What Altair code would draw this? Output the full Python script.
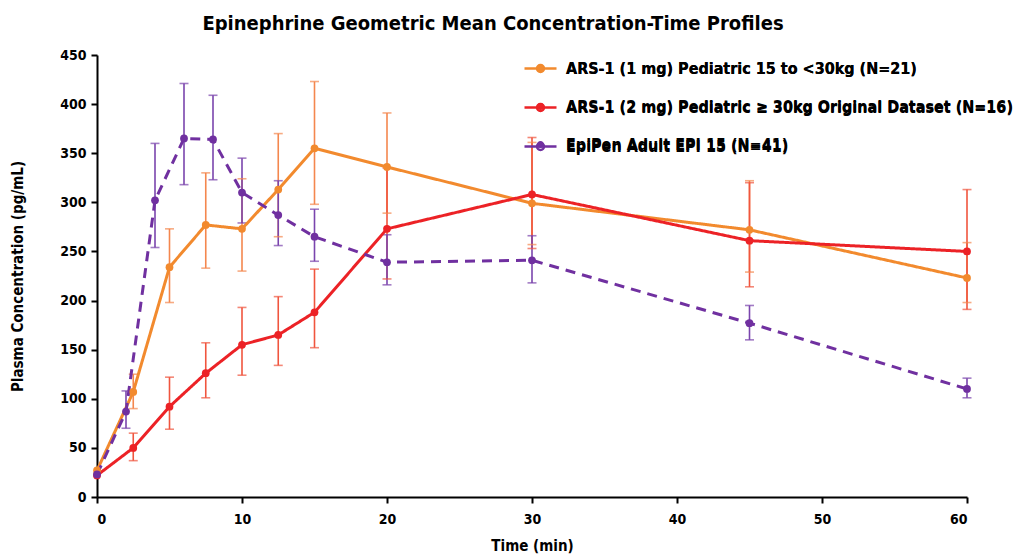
import altair as alt
import pandas as pd

FONT = "DejaVu Sans Condensed, Open Sans, sans-serif"

S1 = "ARS-1 (1 mg) Pediatric 15 to <30kg (N=21)"
S2 = "ARS-1 (2 mg) Pediatric ≥ 30kg Original Dataset (N=16)"
S3 = "EpiPen Adult EPI 15 (N=41)"
series_names = [S1, S2, S3]
series_colors = ["#F28A2E", "#EC2226", "#7030A0"]
err_colors = ["#F4874E", "#F0553E", "#7A45AD"]

t_ars = [0, 2.5, 5, 7.5, 10, 12.5, 15, 20, 30, 45, 60]
ars1_mean = [27, 107, 234, 277, 273, 313, 355, 336, 299, 272, 223]
ars1_lo = [None, 90, 198, 233, 230, 265, 298, 289, 257, 229, 198]
ars1_hi = [None, 125, 273, 330, 324, 370, 423, 391, 361, 322, 259]

ars2_mean = [22, 50, 92, 126, 155, 165, 188, 273, 308, 261, 250]
ars2_lo = [None, 37, 69, 101, 124, 134, 152, 222, 253, 214, 191]
ars2_hi = [None, 65, 122, 157, 193, 204, 232, 335, 366, 320, 313]

t_epi = [0, 2, 4, 6, 8, 10, 12.5, 15, 20, 30, 45, 60]
epi_mean = [23, 87, 302, 365, 364, 310, 287, 265, 239, 241, 177, 110]
epi_lo = [None, 70, 254, 318, 323, 279, 256, 240, 216, 218, 160, 101]
epi_hi = [None, 108, 360, 421, 409, 345, 322, 293, 267, 266, 195, 121]

rows = []
for name, t, m, lo, hi in [
    (S1, t_ars, ars1_mean, ars1_lo, ars1_hi),
    (S2, t_ars, ars2_mean, ars2_lo, ars2_hi),
    (S3, t_epi, epi_mean, epi_lo, epi_hi),
]:
    for i in range(len(t)):
        rows.append({"series": name, "time": t[i], "conc": m[i], "lo": lo[i], "hi": hi[i]})
df = pd.DataFrame(rows)
err_df = df.dropna(subset=["lo", "hi"])

xscale = alt.Scale(domain=[0, 60], nice=False, zero=True)
yscale = alt.Scale(domain=[0, 450], nice=False)

x_axis = alt.Axis(values=[0, 10, 20, 30, 40, 50, 60], grid=False, title="Time (min)",
                  labelFont=FONT, labelFontSize=14, labelFontWeight="bold", labelColor="#000",
                  titleFont=FONT, titleFontSize=15, titleFontWeight="bold", titleColor="#000",
                  domainColor="#000", domainWidth=2, tickColor="#000", tickWidth=2, tickSize=6,
                  labelPadding=9, titlePadding=12)
y_axis = alt.Axis(values=list(range(0, 451, 50)), grid=False, title="Plasma Concentration (pg/mL)",
                  labelFont=FONT, labelFontSize=14, labelFontWeight="bold", labelColor="#000",
                  titleFont=FONT, titleFontSize=15, titleFontWeight="bold", titleColor="#000",
                  domainColor="#000", domainWidth=2, tickColor="#000", tickWidth=2, tickSize=6,
                  labelPadding=5, titlePadding=34)

color_enc = alt.Color("series:N", scale=alt.Scale(domain=series_names, range=series_colors),
                      sort=series_names,
                      legend=alt.Legend(title=None, orient="none", legendX=426, legendY=-4,
                                        labelFont=FONT, labelFontSize=16, labelFontWeight="bold",
                                        labelColor="#000", labelLimit=0,
                                        symbolType="M-1,0L1,0M-0.22,0a0.22,0.22 0 1,0 0.44,0a0.22,0.22 0 1,0 -0.44,0",
                                        symbolSize=1024, symbolStrokeWidth=2.5, rowPadding=12,
                                        labelOffset=8, padding=0, symbolOffset=0))

base = alt.Chart(df)

lines = base.mark_line(strokeWidth=3).encode(
    x=alt.X("time:Q", scale=xscale, axis=x_axis),
    y=alt.Y("conc:Q", scale=yscale, axis=y_axis),
    color=color_enc,
    strokeDash=alt.StrokeDash("series:N", scale=alt.Scale(domain=series_names, range=[[1, 0], [1, 0], [10, 7]]), legend=None),
    detail="series:N",
)
points = base.mark_point(filled=True, size=60, opacity=1, strokeWidth=1).encode(
    x="time:Q", y="conc:Q", color=color_enc,
)

eb = alt.Chart(err_df)
ecol = alt.Color("series:N", scale=alt.Scale(domain=series_names, range=err_colors), legend=None)
rules = eb.mark_rule(strokeWidth=1.6).encode(x="time:Q", y="lo:Q", y2="hi:Q", color=ecol)
cap_lo = eb.mark_tick(orient="horizontal", size=9, thickness=1.6).encode(x="time:Q", y="lo:Q", color=ecol)
cap_hi = eb.mark_tick(orient="horizontal", size=9, thickness=1.6).encode(x="time:Q", y="hi:Q", color=ecol)

chart = alt.layer(rules, cap_lo, cap_hi, lines, points).resolve_scale(color="independent").properties(
    width=870, height=442,
    autosize=alt.AutoSizeParams(type="none"),
    padding={"left": 97, "top": 55, "right": 59, "bottom": 58},
    background="white",
    title=alt.Title("Epinephrine Geometric Mean Concentration-Time Profiles", font=FONT, fontSize=20,
                    fontWeight="bold", color="#000", anchor="middle", dx=-39, offset=14),
).configure_view(stroke=None)

chart.save("out.html", embed_options={"renderer": "svg", "actions": False})
